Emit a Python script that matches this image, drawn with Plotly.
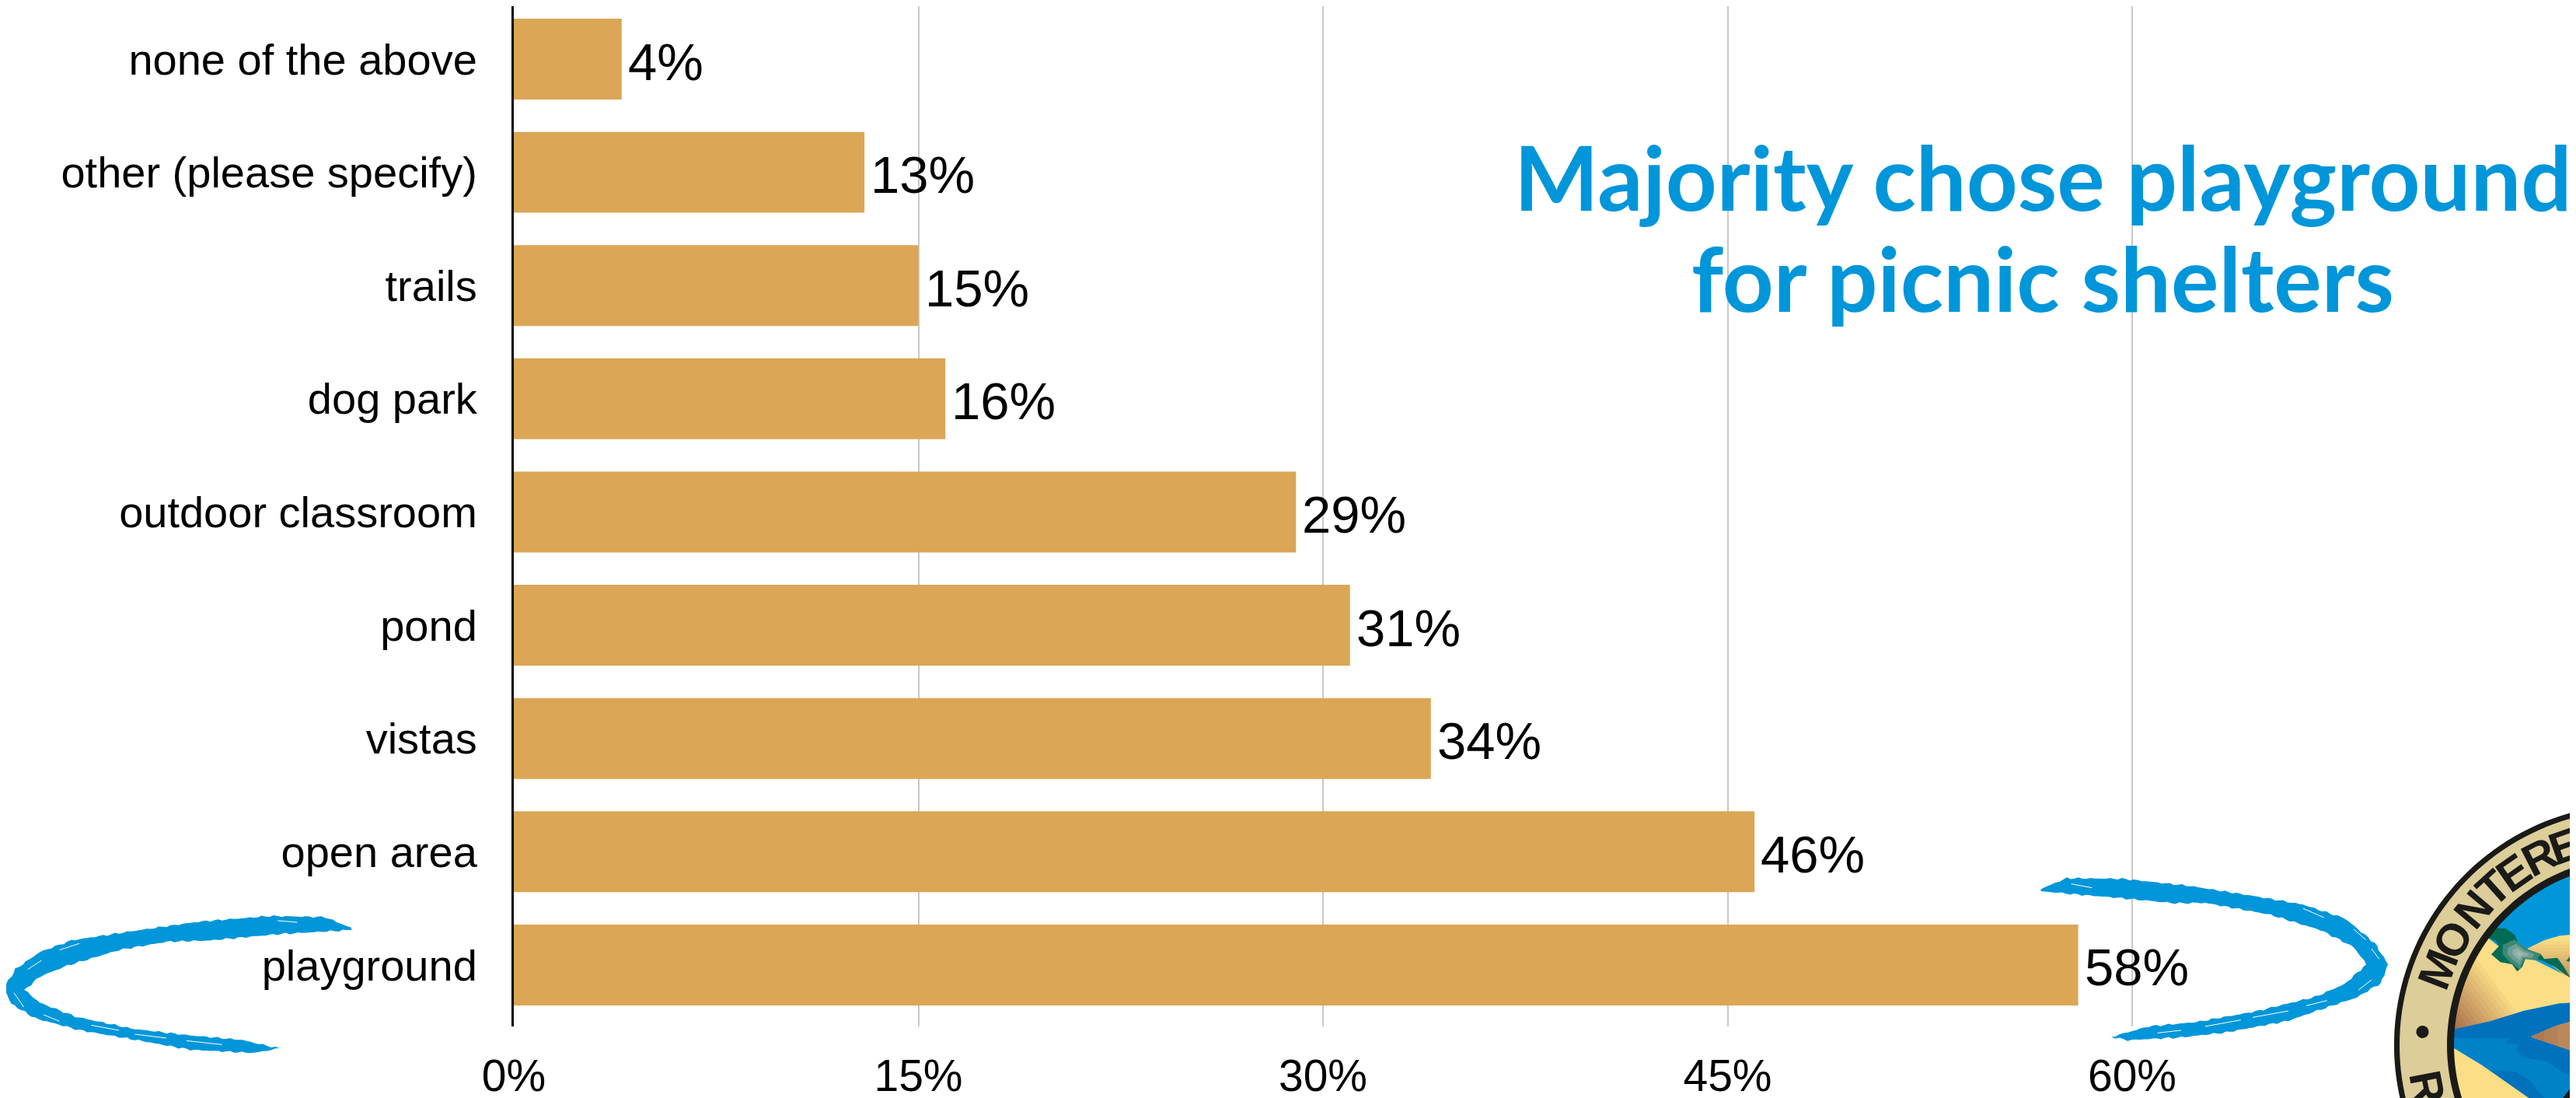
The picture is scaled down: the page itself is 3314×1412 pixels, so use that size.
import math
import plotly.graph_objects as go

categories = ["playground", "open area", "vistas", "pond", "outdoor classroom",
              "dog park", "trails", "other (please specify)", "none of the above"]
values = [58, 46, 34, 31, 29, 16, 15, 13, 4]
x_ticks = [0, 15, 30, 45, 60]
x_tick_labels = ["0%", "15%", "30%", "45%", "60%"]
title_lines = ["Majority chose playground", "for picnic shelters"]
BAR = "#DBA655"
BLUE = "#0096D9"
W, H = 3314, 1412
OFF = 8           # the page's own margin around the figure
L, BOTTOM = 661, 1320   # axis position on the page

FW, FH = W - OFF, H - OFF
FL = L - OFF
PH = BOTTOM - OFF

def P(x, y):
    return ((x - L) / (W - L), 1 - (y - OFF) / PH)

shapes = []
def poly(pts, color):
    d = "M" + "L".join("%.5f,%.5f" % P(x, y) for x, y in pts) + "Z"
    shapes.append(dict(type="path", xref="paper", yref="paper", path=d,
                       fillcolor=color, line=dict(width=0), layer="above"))

def rough(pts, amp):
    out = []
    k = 0
    n = len(pts)
    for a in range(n):
        x0, y0 = pts[a]
        x1, y1 = pts[(a + 1) % n]
        ln = math.hypot(x1 - x0, y1 - y0) or 1
        steps = max(1, int(ln / 5))
        nx, ny = -(y1 - y0) / ln, (x1 - x0) / ln
        for s in range(steps):
            t = s / steps
            o = amp * (math.sin(1.7 * k) + math.sin(4.1 * k + 1)) / 2
            out.append((x0 + (x1 - x0) * t + nx * o, y0 + (y1 - y0) * t + ny * o))
            k += 1
    return out

def stroke(pts, color, width):
    d = "M" + "L".join("%.5f,%.5f" % P(x, y) for x, y in pts)
    shapes.append(dict(type="path", xref="paper", yref="paper", path=d,
                       line=dict(color=color, width=width), layer="above"))

# --- brush swooshes ---
def z3(p): return [(x / 1.96, 1100 + y / 3) for x, y in p]
def z4(p): return [(2500 + x / 2.613, 1080 + y / 3) for x, y in p]

poly(rough(z3([(885,280),(820,238),(680,234),(500,256),(330,293),(180,328),(100,373),(40,438),
               (10,510),(28,572),(88,628),(200,674),(350,714),(480,750),(640,762),(705,745),
               (610,712),(470,693),(330,668),(190,622),(100,568),(62,520),(100,468),(170,425),
               (300,365),(420,333),(530,328),(700,304),(885,288)]), 1.3), BLUE)
for s in [[(70,440),(105,405)], [(150,365),(200,340)], [(35,530),(60,585)], [(110,615),(150,640)],
          [(230,655),(300,675)], [(340,690),(420,705)], [(470,715),(560,730)], [(700,252),(750,258)]]:
    stroke(z3(s), "white", 1)

poly(rough(z4([(327,190),(415,148),(600,150),(830,178),(1050,218),(1210,250),(1350,303),(1450,398),
               (1495,480),(1472,552),(1390,608),(1270,654),(1160,698),(950,743),(800,762),(620,773),
               (565,760),(690,720),(850,703),(1050,662),(1250,606),(1350,556),(1423,480),(1380,414),
               (1270,349),(1100,289),(880,243),(780,245),(600,225),(440,210),(327,198)]), 1.3), BLUE)
for s in [[(1380,345),(1420,385)], [(1440,420),(1465,460)], [(1210,265),(1280,300)], [(1440,540),(1395,580)],
          [(1290,620),(1220,640)], [(1160,660),(1040,685)], [(1000,695),(880,720)], [(800,735),(720,745)], [(430,170),(500,185)]]:
    stroke(z4(s), "white", 1)

# --- badge ---
CX, CY = 3390, 1344
def circle(r, rev=False, n=180):
    a = [2 * math.pi * i / n for i in range(n)]
    if rev:
        a = a[::-1]
    return [(CX + r * math.cos(t), CY + r * math.sin(t)) for t in a]

def ring(r0, r1, color):
    def seg(pts):
        return "M" + "L".join("%.5f,%.5f" % P(x, y) for x, y in pts) + "Z"
    d = seg(circle(r0)) + seg(circle(r1, True))
    shapes.append(dict(type="path", xref="paper", yref="paper", path=d,
                       fillcolor=color, line=dict(width=0), layer="above"))

def z5(p): return [(3060 + x / 3, 1030 + y / 3) for x, y in p]

def clip(pts, o, u, t):
    f = lambda q: (q[0] - o[0]) * u[0] + (q[1] - o[1]) * u[1] - t
    out = []
    for i in range(len(pts)):
        a, b = pts[i], pts[(i + 1) % len(pts)]
        fa, fb = f(a), f(b)
        if fa <= 0:
            out.append(a)
        if fa * fb < 0:
            r = fa / (fa - fb)
            out.append((a[0] + (b[0] - a[0]) * r, a[1] + (b[1] - a[1]) * r))
    return out

def hexmix(c0, c1, r):
    v = [int(c0[i:i+2], 16) * (1 - r) + int(c1[i:i+2], 16) * r for i in (1, 3, 5)]
    return "#%02X%02X%02X" % tuple(int(x) for x in v)

def gradient(pts, o, u, length, c0, c1, base, n=14):
    poly(pts, base)
    for i in range(n, 0, -1):
        t = length * i / n
        c = clip(pts, o, u, t)
        if len(c) > 2:
            poly(c, hexmix(c0, c1, (i - 1) / (n - 1)))

SAND = "#FBDE86"
poly(circle(240), BLUE)
gradient(z5([(575,570),(640,538),(700,520),(780,512),(860,520),(860,760),(740,690),(640,610)]),
         z5([(700,720)])[0], (0, -1), 65, "#B98358", SAND, SAND)
TREE = "#006B54"
gradient(z5([(400,510),(500,590),(600,612),(740,682),(860,745),(860,790),(700,780),(560,810),(430,850),
             (285,882),(200,880),(200,500)]),
         z5([(285,880)])[0], (0.8, -0.6), 85, "#A96F4C", SAND, SAND)
poly(z5([(200,882),(285,882),(430,850),(560,810),(700,782),(880,765),(880,1250),(200,1250)]), "#0071BC")
poly(z5([(200,915),(510,915),(490,935),(540,940),(530,960),(560,990),(650,1005),(710,1045),(762,1070),
         (880,1130),(880,1250),(650,1250),(470,1100),(285,950),(200,950)]), "#0082C8")
poly(z5([(430,1040),(530,1045),(580,1075),(640,1146),(640,1250),(580,1190)]), "#0071BC")
poly(z5([(200,905),(285,950),(400,1020),(580,1146),(700,1260),(200,1260)]), SAND)
gradient(z5([(588,910),(680,870),(780,840),(880,830),(880,1010),(780,975)]),
         z5([(588,910)])[0], (1, 0), 170, "#AE7850", "#E4C483", "#E4C483", n=10)
poly(z5([(700,1160),(738,1112),(800,1085),(900,1085),(900,1200)]), "#1A1A17")
poly(z5([(722,1170),(752,1126),(810,1100),(900,1100),(900,1200)]), TREE)
poly(z5([(412,530),(448,490),(490,492),(525,515),(540,552),(580,575),(625,590),(640,610),(690,605),
         (715,640),(740,682),(680,640),(630,615),(570,600),(555,640),(535,658),(515,630),(470,622),
         (435,592),(465,560),(452,540),(425,530)]), TREE)
poly(z5([(725,618),(745,590),(790,585),(800,615),(750,622)]), TREE)
for f, c in [(1.0, "#3D8877"), (0.7, "#6A9E92"), (0.42, "#8DB0A6"), (0.2, "#A2BAB2")]:
    ctr = (545, 590)
    blob = [(480,555),(525,535),(570,570),(625,590),(610,615),(565,610),(545,650),(505,620),(478,590)]
    poly(z5([(ctr[0] + (x - ctr[0]) * f, ctr[1] + (y - ctr[1]) * f) for x, y in blob]), c)

ring(310, 240, "#DCCD99")
ring(310, 303, "#1A1A17")
ring(242, 233, "#1A1A17")

annotations = []
def letter(ch, angle_deg, rot, r=272):
    a = math.radians(angle_deg)
    x, y = CX + r * math.cos(a), CY + r * math.sin(a)
    px, py = P(x, y)
    annotations.append(dict(text="<b>%s</b>" % ch, x=px, y=py, xref="paper", yref="paper",
                            xanchor="center", yanchor="middle", showarrow=False, textangle=rot,
                            font=dict(family="Liberation Sans", size=58, color="#1A1A17")))

for ch, ang in [("M", 21), ("O", 30), ("N", 40), ("T", 48), ("E", 55), ("R", 63), ("E", 70.5)]:
    letter(ch, 180 + ang, -(90 - ang))
letter("R", 180 - 11.5, 79)
poly([(3116.5 + 8 * math.cos(i / 4), 1327 + 8 * math.sin(i / 4)) for i in range(26)], "#1A1A17")

# --- title ---
for txt, yc in zip(title_lines, [226, 356]):
    px, py = P(2628, yc)
    annotations.append(dict(text="<b>%s</b>" % txt, x=px, y=py, xref="paper", yref="paper",
                            xanchor="center", yanchor="middle", showarrow=False,
                            font=dict(family="Lato", size=115, color=BLUE)))

# --- value labels, placed through the data axes ---
for c, v in zip(categories, values):
    annotations.append(dict(text="%d%%" % v, x=v, y=c, xref="x", yref="y",
                            xanchor="left", yanchor="middle", showarrow=False, xshift=6, yshift=-3,
                            font=dict(family="Liberation Sans", size=67, color="black")))

fig = go.Figure(go.Bar(
    y=categories, x=values, orientation="h", width=0.714,
    marker=dict(color=BAR, line=dict(width=0)),
    cliponaxis=False,
))
fig.update_layout(
    width=FW, height=FH, autosize=False,
    margin=dict(l=FL, r=0, t=0, b=FH - PH, pad=0),
    paper_bgcolor="white", plot_bgcolor="white",
    font=dict(family="Liberation Sans", color="black"),
    showlegend=False, shapes=shapes, annotations=annotations,
    xaxis=dict(range=[0, (W - L) / 34.7], tickmode="array", tickvals=x_ticks, ticktext=x_tick_labels,
               automargin=False,
               showgrid=True, gridcolor="#C8C8C8", gridwidth=2, zeroline=False, showline=False,
               ticks="outside", ticklen=14, tickcolor="rgba(0,0,0,0)",
               tickfont=dict(family="Liberation Sans", size=57, color="black")),
    yaxis=dict(type="category", categoryorder="array", categoryarray=categories,
               automargin=False,
               range=[-0.543, 8.467], showgrid=False, zeroline=False,
               showline=True, linecolor="black", linewidth=3,
               ticks="outside", ticklen=33, tickcolor="rgba(0,0,0,0)",
               tickfont=dict(family="Liberation Sans", size=56, color="black")),
)
fig.write_html("out.html", config=dict(displayModeBar=False))
